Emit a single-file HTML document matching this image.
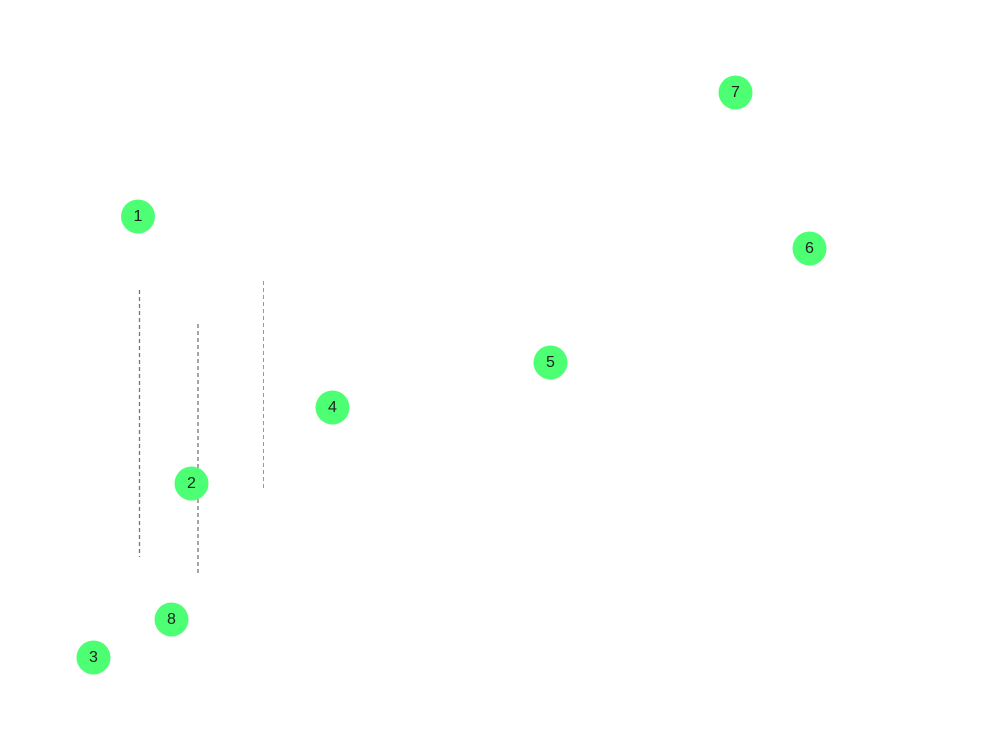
<!DOCTYPE html>
<html><head><meta charset="utf-8"><style>
html,body{margin:0;padding:0;background:#fff;width:1000px;height:743px;overflow:hidden}
</style></head><body>
<svg width="1000" height="743" xmlns="http://www.w3.org/2000/svg">
<g stroke-dasharray="4,3" fill="none">
<line x1="139.5" y1="290" x2="139.5" y2="557" stroke="#777" stroke-width="1.3"/>
<line x1="198" y1="324" x2="198" y2="574" stroke="#777" stroke-width="1.3"/>
<line x1="263.5" y1="281" x2="263.5" y2="491" stroke="#999" stroke-width="1"/>
</g>
<g fill="#4cff73">
<circle cx="138" cy="216.5" r="17"/>
<circle cx="191.5" cy="483.5" r="17"/>
<circle cx="93.5" cy="657.5" r="17"/>
<circle cx="332.5" cy="407.5" r="17"/>
<circle cx="550.5" cy="362.5" r="17"/>
<circle cx="809.5" cy="248.5" r="17"/>
<circle cx="735.5" cy="92.5" r="17"/>
<circle cx="171.5" cy="619.5" r="17"/>
</g>
<g font-family="Liberation Sans, sans-serif" font-size="16" fill="#222" text-anchor="middle" dominant-baseline="central">
<text x="138" y="216.5">1</text>
<text x="191.5" y="483.5">2</text>
<text x="93.5" y="657.5">3</text>
<text x="332.5" y="407.5">4</text>
<text x="550.5" y="362.5">5</text>
<text x="809.5" y="248.5">6</text>
<text x="735.5" y="92.5">7</text>
<text x="171.5" y="619.5">8</text>
</g>
</svg>
</body></html>
